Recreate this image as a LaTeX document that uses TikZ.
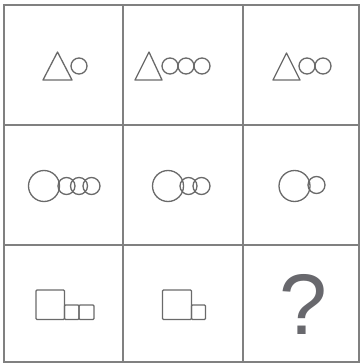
\documentclass[tikz,border=0pt]{standalone}
\usepackage{fontspec}
\setmainfont{Liberation Sans}
\usetikzlibrary{positioning}
\definecolor{gridgray}{HTML}{808080}
\definecolor{shapegray}{HTML}{6A6A6A}
\definecolor{markgray}{HTML}{68686D}

\begin{document}
\begin{tikzpicture}[
      x=1pt, y=-1pt,
      gridline/.style={draw=gridgray, line width=1.8pt},
      shp/.style={draw=shapegray, line width=1.3pt, line join=round},
      qmark/.style={inner sep=0pt, text=markgray,
                    font=\fontsize{86}{86}\selectfont}
    ]
    \useasboundingbox (0,0) rectangle (361,363);
    \fill[white] (0,0) rectangle (361,363);
    % grid
    \draw[gridline] (4,5) rectangle (359,362);
    \foreach \x in {123,243} \draw[gridline] (\x,5) -- (\x,362);
    \foreach \y in {125,245} \draw[gridline] (4,\y) -- (359,\y);
    % row 1: triangle and circles
    \draw[shp] (43,80) -- (57.5,52) -- (72,80) -- cycle;
    \draw[shp] (79,66) circle[radius=8pt];
    \draw[shp] (135,80) -- (149,52) -- (162,80) -- cycle;
    \foreach \cx in {170,186,202} \draw[shp] (\cx,66) circle[radius=8pt];
    \draw[shp] (273,80) -- (286.5,53) -- (300,80) -- cycle;
    \foreach \cx in {307,323} \draw[shp] (\cx,66) circle[radius=8pt];
    % row 2: big circle and small circles
    \draw[shp] (44,186) circle[radius=15.5pt];
    \foreach \cx in {66.5,79,91.5} \draw[shp] (\cx,186) circle[radius=8.5pt];
    \draw[shp] (168,186) circle[radius=15.5pt];
    \foreach \cx in {188.5,201.5} \draw[shp] (\cx,186) circle[radius=8.5pt];
    \draw[shp] (294.5,186) circle[radius=15.5pt];
    \draw[shp] (316.5,185) circle[radius=8.5pt];
    % row 3: big square and small squares
    \draw[shp, rounded corners=1pt] (36,290) rectangle (64.5,319.5);
    \draw[shp, rounded corners=1pt] (64.5,305) rectangle (79,319.5);
    \draw[shp, rounded corners=1pt] (79,305) rectangle (94,319.5);
    \draw[shp, rounded corners=1pt] (162.5,290) rectangle (191.5,319.5);
    \draw[shp, rounded corners=1pt] (191.5,305) rectangle (205.5,319.5);
    \node[qmark] (ask) at (303,304) {?};
  \end{tikzpicture}
\end{document}
